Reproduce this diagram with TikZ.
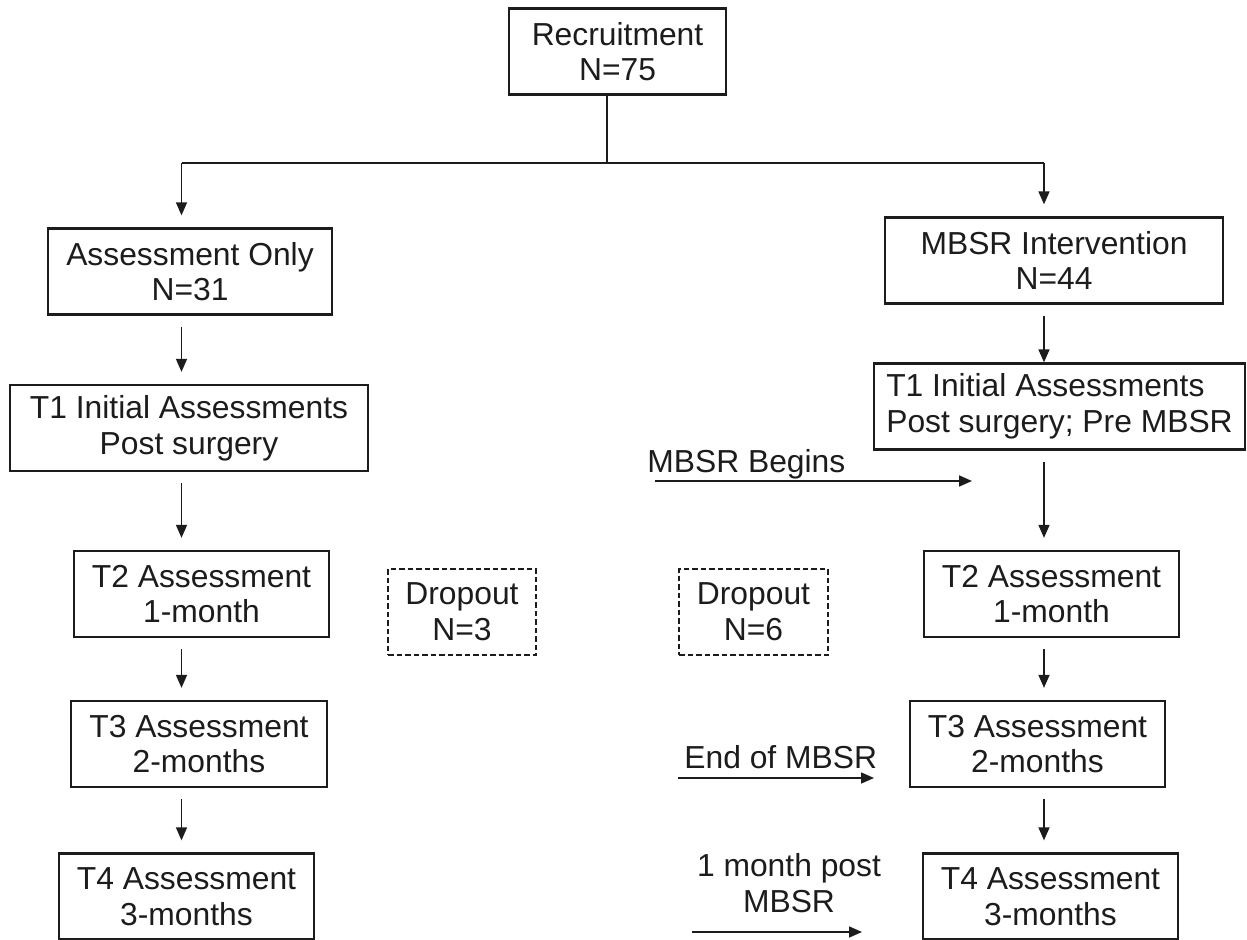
\documentclass[tikz,border=0pt]{standalone}
\usepackage{fontspec}
\setmainfont{Liberation Sans}
\usetikzlibrary{arrows.meta}
\definecolor{FlowInk}{HTML}{1C1C1C}

\begin{document}
\begin{tikzpicture}[x=1cm, y=1cm,
		box/.style={draw=FlowInk, line width=1.3pt, align=center, inner sep=0pt,
			minimum height=1.72cm, text=FlowInk, font=\fontsize{18.1}{20.3}\selectfont},
		dropbox/.style={box, line width=1.1pt, dash pattern=on 0.11cm off 0.06cm},
		note/.style={inner sep=0pt, text=FlowInk, font=\fontsize{18.1}{20.3}\selectfont},
		link/.style={draw=FlowInk, line width=0.9pt},
		cue/.style={link, -{Triangle[length=0.26cm, width=0.22cm]}},
		flow/.style={cue, shorten <=0.22cm, shorten >=0.24cm}]

	\useasboundingbox (0,0) rectangle (24.94,-18.8);

	% top of the chart
	\node[box, minimum width=4.34cm] (rec) at (12.35,-1.03) {Recruitment\\N=75};

	% assessment only arm
	\node[box, minimum width=5.68cm] (ctl) at (3.80,-5.43) {Assessment Only\\N=31};
	\node[box, minimum width=7.16cm] (t1l) at (3.78,-8.56) {T1 Initial Assessments\\Post surgery};
	\node[box, minimum width=5.10cm] (t2l) at (4.03,-11.88) {T2 Assessment\\1-month};
	\node[box, minimum width=5.12cm] (t3l) at (3.98,-14.88) {T3 Assessment\\2-months};
	\node[box, minimum width=5.10cm] (t4l) at (3.73,-17.93) {T4 Assessment\\3-months};

	% mbsr arm
	\node[box, minimum width=6.76cm] (mbsr) at (21.08,-5.21) {MBSR Intervention\\N=44};
	\node[box, minimum width=7.42cm, align=left] (t1r) at (21.19,-8.13)
		{T1 Initial Assessments\\Post surgery; Pre MBSR};
	\node[box, minimum width=5.10cm] (t2r) at (21.03,-11.88) {T2 Assessment\\1-month};
	\node[box, minimum width=5.10cm] (t3r) at (20.75,-14.88) {T3 Assessment\\2-months};
	\node[box, minimum width=5.10cm] (t4r) at (21.01,-17.93) {T4 Assessment\\3-months};

	% dropouts
	\node[dropbox, minimum width=2.96cm] (drop3) at (9.24,-12.24) {Dropout\\N=3};
	\node[dropbox, minimum width=2.98cm] (drop6) at (15.07,-12.24) {Dropout\\N=6};

	% split into the two arms
	\coordinate (split) at (12.14,-3.26);
	\coordinate (lx) at (3.63,0);
	\coordinate (rx) at (20.88,0);
	\draw[link] (rec.south -| split) -- (split);
	\draw[link] (split -| lx) -- (split -| rx);
	\draw[flow, shorten <=0pt] (split -| lx) -- (ctl.north -| lx);
	\draw[flow, shorten <=0pt] (split -| rx) -- (mbsr.north -| rx);

	% down each column
	\foreach \a/\b in {ctl/t1l, t1l/t2l, t2l/t3l, t3l/t4l}
		\draw[flow] (\a.south -| lx) -- (\b.north -| lx);
	\draw[flow, shorten >=0pt] (mbsr.south -| rx) -- (t1r.north -| rx);
	\foreach \a/\b in {t1r/t2r, t2r/t3r, t3r/t4r}
		\draw[flow] (\a.south -| rx) -- (\b.north -| rx);

	% timing of the course
	\coordinate (beg0) at (13.10,-9.62);
	\coordinate (beg1) at (19.44,-9.62);
	\draw[cue] (beg0) -- (beg1);
	\node[note, anchor=base west] (begins) at (12.94,-9.44) {MBSR Begins};

	\coordinate (end0) at (13.56,-15.56);
	\coordinate (end1) at (17.48,-15.56);
	\draw[cue] (end0) -- (end1);
	\node[note, anchor=base west] (ends) at (13.68,-15.36) {End of MBSR};

	\coordinate (post0) at (13.84,-18.64);
	\coordinate (post1) at (17.24,-18.64);
	\draw[cue] (post0) -- (post1);
	\node[note, align=center, anchor=south] (post) at (15.78,-18.26) {1 month post\\MBSR};
\end{tikzpicture}
\end{document}
